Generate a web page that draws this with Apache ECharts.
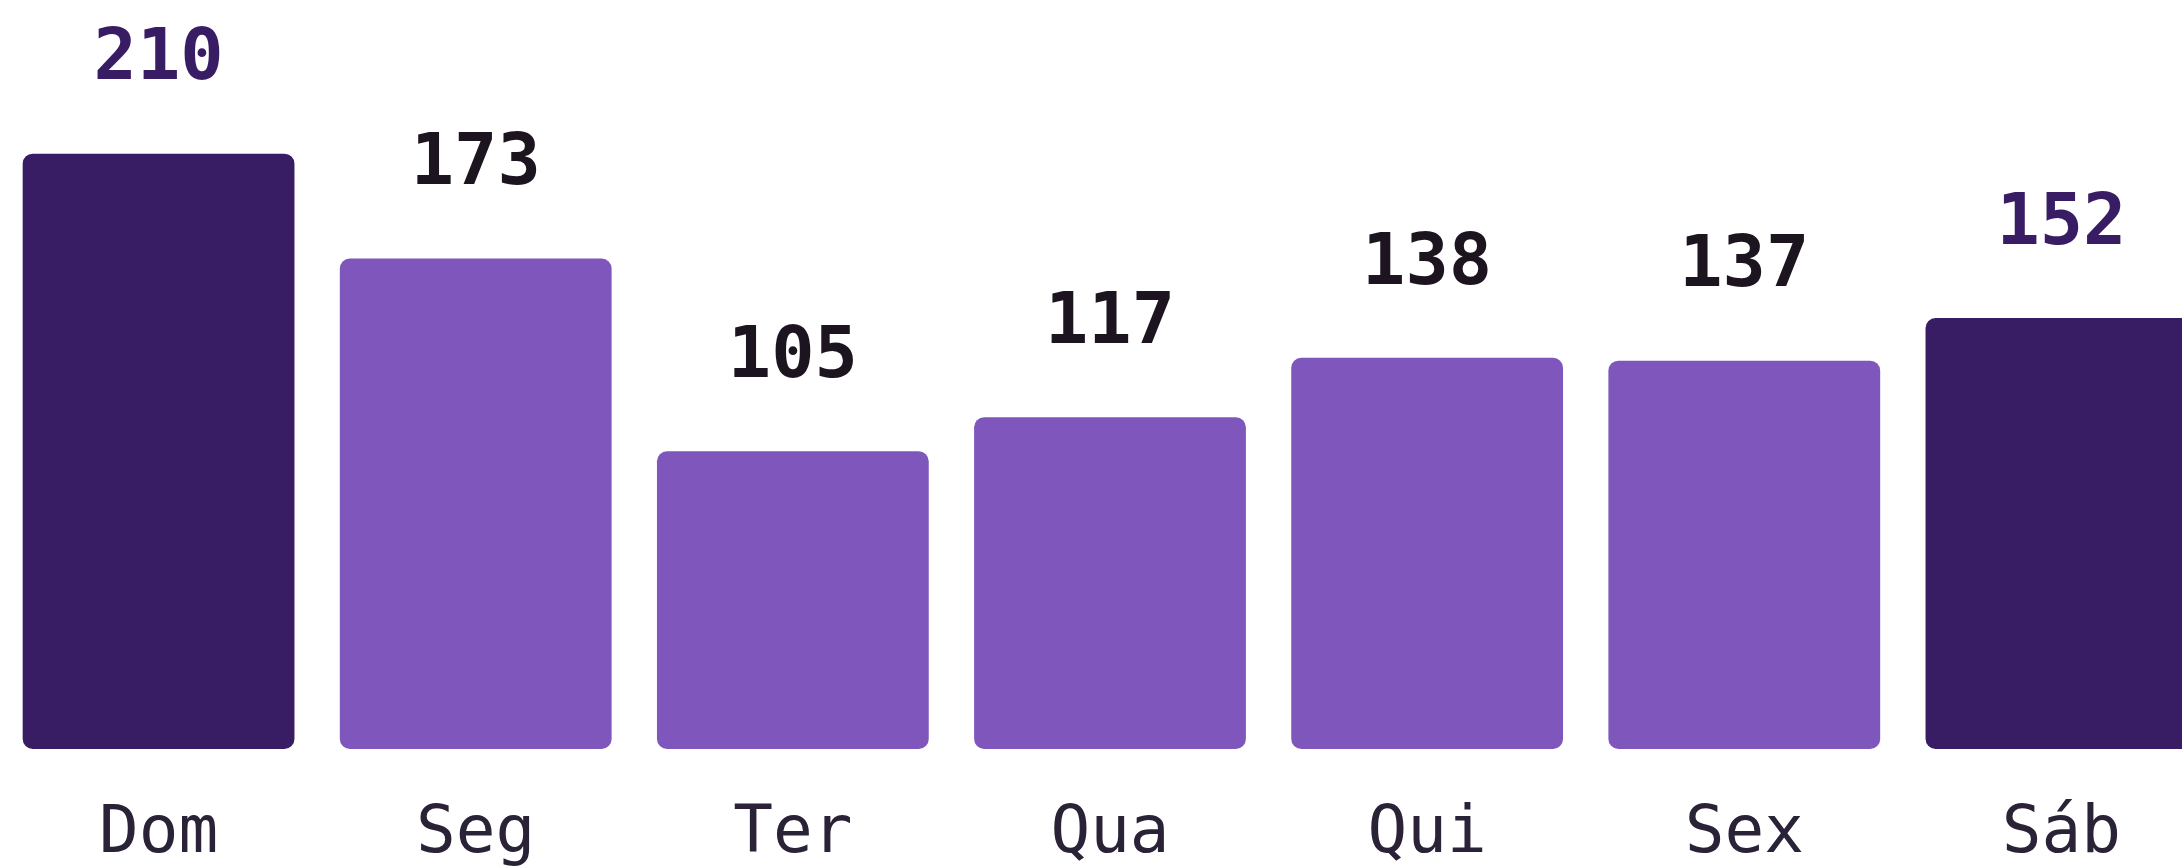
<!DOCTYPE html>
<html>
<head>
<meta charset="utf-8">
<title>Dias da semana</title>
<script src="https://cdn.jsdelivr.net/npm/echarts@6/dist/echarts.min.js"></script>
<style>
    html, body { margin: 0; padding: 0; background: #ffffff; }
    #main { width: 2182px; height: 866px; }
</style>
</head>
<body>
<div id="main"></div>
<script>
// dados do gráfico
var dias = ['Dom', 'Seg', 'Ter', 'Qua', 'Qui', 'Sex', 'Sáb'];
var valores = [210, 173, 105, 117, 138, 137, 152];
// fim de semana fica com a cor escura
var fimDeSemana = ['Dom', 'Sáb'];

var escuro = '#381c64';
var claro = '#7f57bc';

var myChart = echarts.init(document.getElementById('main'));

var dados = valores.map(function (v, i) {
    var destaque = fimDeSemana.indexOf(dias[i]) >= 0;
    return {
        value: v,
        itemStyle: { color: destaque ? escuro : claro },
        label: { color: destaque ? escuro : '#1c1520' }
    };
});

var option = {
    animation: false,
    grid: {
        left: 0,
        top: 97,
        bottom: 117,
        width: 2220,
        // o último dia passa da borda, como no original
        outerBoundsMode: 'none',
        containLabel: false
    },
    xAxis: {
        type: 'category',
        data: dias,
        axisLine: { show: false },
        axisTick: { show: false },
        axisLabel: {
            margin: 53,
            fontFamily: 'DejaVu Sans Mono',
            fontSize: 66,
            color: '#2a2236'
        }
    },
    yAxis: {
        type: 'value',
        min: 0,
        max: 230,
        show: false,
        splitLine: { show: false }
    },
    series: [{
        type: 'bar',
        data: dados,
        barCategoryGap: '14.3%',
        itemStyle: { borderRadius: 10 },
        label: {
            show: true,
            position: 'top',
            distance: 57,
            fontFamily: 'DejaVu Sans Mono',
            fontWeight: 'bold',
            fontSize: 72
        }
    }]
};

myChart.setOption(option);
</script>
</body>
</html>
